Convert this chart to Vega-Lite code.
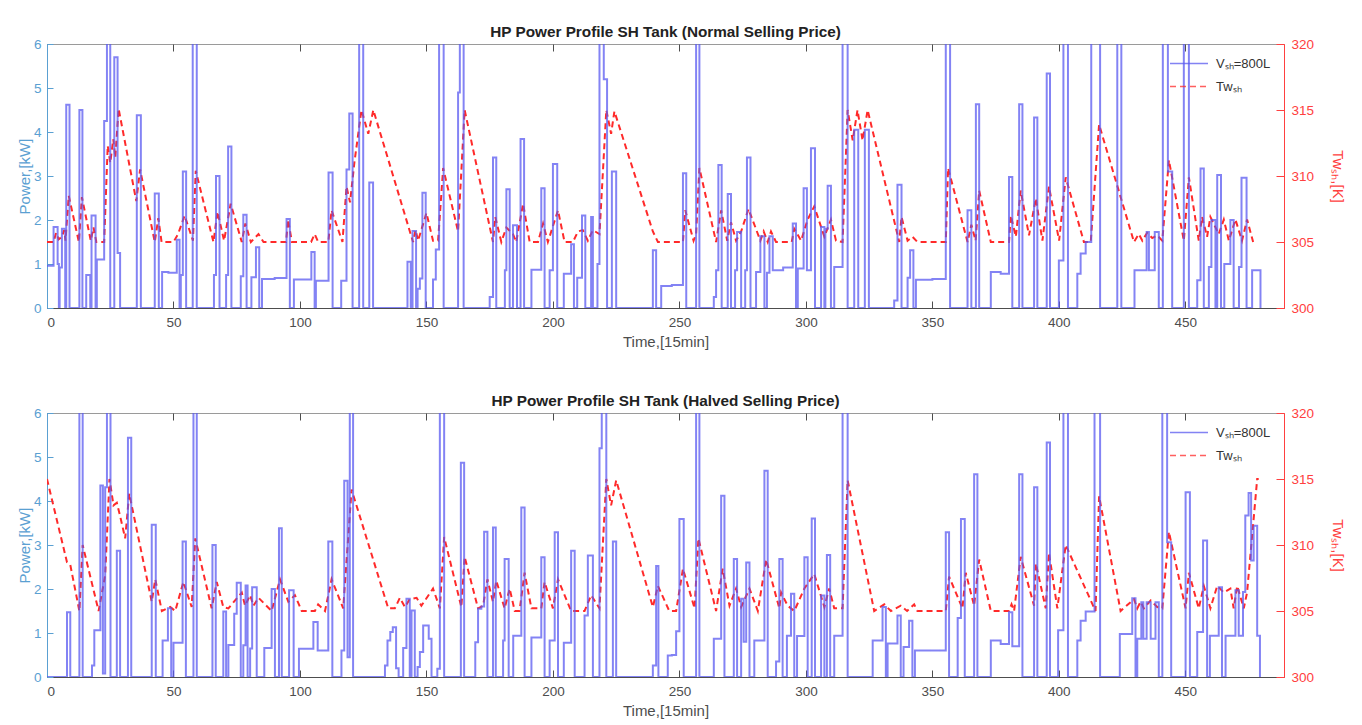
{
"$schema": "https://vega.github.io/schema/vega-lite/v6.json",
"background": "white",
"padding": {"left": 16, "top": 24, "right": 5, "bottom": 5},
"spacing": 43,
"config": {
  "font": "Liberation Sans",
  "view": {"stroke": "#9a9a9a", "strokeWidth": 1},
  "title": {"fontSize": 15.3, "fontWeight": "bold", "color": "#222222", "offset": -3}
},
"datasets": {
"p1": [{"t":0,"p":0.96},{"t":2.6,"p":1.84},{"t":4.2,"p":1.0},{"t":4.7,"p":0},{"t":5,"p":0.92},{"t":5.9,"p":1.8},{"t":7.2,"p":0},{"t":7.6,"p":4.62},{"t":8.9,"p":0},{"t":12.8,"p":4.5},{"t":14,"p":0},{"t":15.5,"p":0.75},{"t":17.1,"p":0},{"t":17.6,"p":2.1},{"t":19.2,"p":0},{"t":19.7,"p":1.1},{"t":22.6,"p":4.25},{"t":23.7,"p":6.5},{"t":25,"p":0},{"t":26.6,"p":5.7},{"t":27.9,"p":1.25},{"t":28.9,"p":0},{"t":35.5,"p":4.38},{"t":37.1,"p":0},{"t":42.6,"p":2.6},{"t":44.2,"p":0},{"t":45.5,"p":0.82},{"t":48,"p":0.8},{"t":51.3,"p":1.55},{"t":52.4,"p":0},{"t":52.9,"p":0.75},{"t":53.7,"p":3.1},{"t":55,"p":0},{"t":57.6,"p":6.5},{"t":59.2,"p":0},{"t":66,"p":0.75},{"t":66.8,"p":3.0},{"t":68.2,"p":0},{"t":70.8,"p":0.75},{"t":71.6,"p":3.67},{"t":72.9,"p":0},{"t":76.6,"p":0.72},{"t":77.6,"p":2.12},{"t":78.9,"p":0},{"t":80.8,"p":0.7},{"t":82.6,"p":1.38},{"t":83.9,"p":0},{"t":85,"p":0.66},{"t":90,"p":0.68},{"t":94.7,"p":2.02},{"t":96,"p":0},{"t":97.6,"p":0.65},{"t":104.5,"p":1.27},{"t":105.8,"p":0},{"t":106.3,"p":0.62},{"t":111.3,"p":3.08},{"t":112.9,"p":0},{"t":116.3,"p":0.62},{"t":118.4,"p":3.15},{"t":119.5,"p":4.42},{"t":120.8,"p":0},{"t":123.4,"p":6.5},{"t":125,"p":0},{"t":127.4,"p":2.85},{"t":128.9,"p":0},{"t":142.5,"p":1.05},{"t":143.8,"p":0},{"t":144.5,"p":1.75},{"t":145.9,"p":0},{"t":146.5,"p":0.44},{"t":147.4,"p":0.67},{"t":148.4,"p":2.62},{"t":149.7,"p":0},{"t":152.6,"p":0.65},{"t":153.7,"p":1.33},{"t":155,"p":6.5},{"t":156.8,"p":0},{"t":162.5,"p":4.9},{"t":163.2,"p":6.5},{"t":164.7,"p":0},{"t":175,"p":0.25},{"t":176.3,"p":3.42},{"t":177.6,"p":0},{"t":181,"p":0.86},{"t":181.6,"p":2.7},{"t":182.9,"p":0},{"t":184.2,"p":1.88},{"t":185.8,"p":0},{"t":187.2,"p":3.84},{"t":188.6,"p":0},{"t":191.5,"p":0.87},{"t":195.4,"p":2.72},{"t":196.7,"p":0},{"t":198.7,"p":0.86},{"t":200,"p":3.27},{"t":201.7,"p":0},{"t":204.3,"p":0.78},{"t":207.2,"p":1.45},{"t":208.3,"p":0},{"t":209.6,"p":0.69},{"t":211.5,"p":2.1},{"t":212.8,"p":0},{"t":215.1,"p":2.07},{"t":215.8,"p":0},{"t":217.6,"p":1.0},{"t":218.4,"p":6.5},{"t":220.1,"p":5.2},{"t":221.4,"p":0},{"t":223.3,"p":3.1},{"t":225,"p":0},{"t":239.5,"p":1.31},{"t":240.8,"p":0},{"t":242.8,"p":0.5},{"t":247,"p":0.52},{"t":251.4,"p":3.06},{"t":252.7,"p":0},{"t":256.6,"p":6.5},{"t":257.9,"p":0},{"t":263.6,"p":0.25},{"t":264.5,"p":0.86},{"t":265.4,"p":3.25},{"t":266.7,"p":0},{"t":269.1,"p":2.59},{"t":270.4,"p":0},{"t":272,"p":0.86},{"t":272.8,"p":1.73},{"t":274.4,"p":0},{"t":276,"p":0.86},{"t":276.7,"p":3.42},{"t":278.1,"p":0},{"t":280.3,"p":0.82},{"t":282,"p":1.63},{"t":283.6,"p":0},{"t":284.6,"p":0.8},{"t":285.6,"p":1.63},{"t":286.9,"p":0.86},{"t":291,"p":0.92},{"t":294.8,"p":1.92},{"t":296.1,"p":0},{"t":296.8,"p":0.9},{"t":299.1,"p":2.72},{"t":300.4,"p":0.86},{"t":302,"p":3.63},{"t":303.6,"p":0},{"t":306,"p":1.84},{"t":307.3,"p":0},{"t":307.7,"p":1.8},{"t":308.6,"p":2.78},{"t":309.9,"p":0},{"t":311.2,"p":0.93},{"t":314.5,"p":6.5},{"t":316.5,"p":0},{"t":319.1,"p":4.05},{"t":320.7,"p":0},{"t":323.3,"p":4.05},{"t":324.9,"p":0},{"t":334.9,"p":0.17},{"t":336.2,"p":2.8},{"t":337.8,"p":0},{"t":340.2,"p":0.69},{"t":341.2,"p":1.31},{"t":342.5,"p":0},{"t":343.5,"p":0.64},{"t":350,"p":0.66},{"t":355.3,"p":6.5},{"t":357,"p":0},{"t":363.9,"p":2.22},{"t":365.4,"p":0},{"t":367.2,"p":4.63},{"t":368.5,"p":0},{"t":373.1,"p":0.82},{"t":377,"p":0.78},{"t":380.3,"p":2.98},{"t":381.6,"p":0},{"t":384.3,"p":4.63},{"t":385.6,"p":0},{"t":390.2,"p":4.33},{"t":391.5,"p":0},{"t":395.2,"p":5.33},{"t":396.5,"p":0},{"t":400,"p":1.08},{"t":401.8,"p":6.5},{"t":403.6,"p":0},{"t":407.3,"p":0.78},{"t":408.6,"p":1.24},{"t":410.6,"p":1.5},{"t":412.8,"p":6.5},{"t":416.3,"p":0},{"t":423.1,"p":6.5},{"t":424.7,"p":0},{"t":429.9,"p":0.86},{"t":434.7,"p":1.73},{"t":435.6,"p":0.86},{"t":437.9,"p":1.73},{"t":439.5,"p":0},{"t":441.1,"p":6.5},{"t":443.1,"p":3.1},{"t":444.8,"p":0},{"t":449.4,"p":6.5},{"t":451.4,"p":0},{"t":454.7,"p":0.63},{"t":456,"p":3.17},{"t":457.3,"p":0},{"t":459.3,"p":0.93},{"t":460.3,"p":2.0},{"t":461.9,"p":0},{"t":462.6,"p":3.02},{"t":464.1,"p":0},{"t":465.4,"p":1.0},{"t":467.8,"p":2.0},{"t":469.1,"p":0},{"t":471.2,"p":0.93},{"t":472.2,"p":2.96},{"t":474.2,"p":0},{"t":476.4,"p":0.86},{"t":479.7,"p":0}],
"t1": [{"t":0,"T":305},{"t":2.6,"T":305},{"t":3.6,"T":305.7},{"t":4.6,"T":305.2},{"t":5.9,"T":305.4},{"t":6.8,"T":305.9},{"t":7.3,"T":305.1},{"t":8.6,"T":308.5},{"t":12.6,"T":305},{"t":13.8,"T":308.4},{"t":17.3,"T":305.1},{"t":18.4,"T":306.1},{"t":19.5,"T":305},{"t":22.6,"T":305},{"t":24,"T":312.3},{"t":25,"T":311},{"t":26.2,"T":312.8},{"t":27,"T":311.4},{"t":28.3,"T":315.1},{"t":35.3,"T":308.1},{"t":36.8,"T":310.5},{"t":42.6,"T":305},{"t":44,"T":306.8},{"t":45.3,"T":305},{"t":50,"T":305},{"t":51.8,"T":305.6},{"t":54.4,"T":307},{"t":57.7,"T":305.1},{"t":58.8,"T":310.4},{"t":65.8,"T":305},{"t":67.4,"T":307.3},{"t":70,"T":305.1},{"t":72.6,"T":307.9},{"t":77,"T":305},{"t":78.4,"T":306.4},{"t":80.6,"T":305},{"t":83.6,"T":305.6},{"t":85.6,"T":305},{"t":94.5,"T":305},{"t":95.3,"T":306.7},{"t":96.8,"T":305},{"t":104.4,"T":305},{"t":105.8,"T":305.6},{"t":107.2,"T":305},{"t":111.2,"T":305},{"t":112.5,"T":307.4},{"t":116.8,"T":305},{"t":118.4,"T":309.2},{"t":119.8,"T":308},{"t":121.5,"T":311},{"t":124.3,"T":315},{"t":127,"T":313.2},{"t":129,"T":315},{"t":144.7,"T":305},{"t":145.7,"T":305.9},{"t":146.7,"T":305.1},{"t":150,"T":307.2},{"t":152.6,"T":305.1},{"t":154.6,"T":305.1},{"t":156.6,"T":310.6},{"t":162.5,"T":305.8},{"t":165.1,"T":315},{"t":176.3,"T":305},{"t":177.2,"T":306.9},{"t":179.6,"T":305},{"t":181.6,"T":306.1},{"t":184.2,"T":305.6},{"t":185.5,"T":305},{"t":188.2,"T":307.9},{"t":190.8,"T":305},{"t":194.1,"T":305},{"t":196.1,"T":306.4},{"t":198,"T":305},{"t":202,"T":307.4},{"t":204.6,"T":305},{"t":207.9,"T":305},{"t":209.9,"T":305.8},{"t":211.8,"T":305.9},{"t":213.8,"T":305.1},{"t":215.8,"T":305.9},{"t":218.4,"T":305.6},{"t":221.1,"T":315},{"t":223,"T":313.2},{"t":224.3,"T":314.9},{"t":239.5,"T":305.8},{"t":241.5,"T":305},{"t":251.4,"T":305},{"t":252.3,"T":307.4},{"t":255.6,"T":305.1},{"t":256.6,"T":305.6},{"t":257.9,"T":310.6},{"t":264.5,"T":305},{"t":266.5,"T":307.4},{"t":268.9,"T":305.1},{"t":270.4,"T":306.5},{"t":272.4,"T":305.1},{"t":274.4,"T":305.8},{"t":277.3,"T":307.5},{"t":282,"T":305.1},{"t":283.3,"T":305.8},{"t":284.9,"T":305},{"t":286.2,"T":305.8},{"t":288.2,"T":305},{"t":294.4,"T":305},{"t":295.4,"T":306},{"t":298.1,"T":305.1},{"t":300.7,"T":306.7},{"t":303.3,"T":307.7},{"t":307.3,"T":305.4},{"t":309.9,"T":306.7},{"t":311.9,"T":305.1},{"t":314.5,"T":305},{"t":316.5,"T":315},{"t":318.5,"T":312.7},{"t":320.4,"T":315},{"t":322.4,"T":312.7},{"t":324.4,"T":315},{"t":336.9,"T":305},{"t":337.8,"T":306.9},{"t":340.2,"T":305.1},{"t":342.1,"T":305.4},{"t":344.1,"T":305},{"t":355.3,"T":305},{"t":356.2,"T":310.6},{"t":363.9,"T":305},{"t":365.4,"T":306.3},{"t":367.1,"T":305.1},{"t":368.5,"T":308.9},{"t":373.1,"T":305},{"t":380.3,"T":305},{"t":381,"T":307},{"t":383,"T":305.4},{"t":384.9,"T":308.9},{"t":388.2,"T":305.5},{"t":390.9,"T":308.3},{"t":393.5,"T":305.1},{"t":396.1,"T":309.2},{"t":400.1,"T":305.1},{"t":402.7,"T":309.9},{"t":409.9,"T":305},{"t":412.6,"T":305},{"t":415.9,"T":313.9},{"t":429.7,"T":305},{"t":431.6,"T":305.6},{"t":433,"T":305.1},{"t":434.9,"T":305.7},{"t":436.9,"T":305.3},{"t":438.9,"T":305.5},{"t":440.9,"T":305.1},{"t":443.5,"T":311.2},{"t":449.4,"T":305.1},{"t":451.4,"T":309.9},{"t":455.3,"T":305.1},{"t":456.6,"T":306.9},{"t":458.6,"T":305.4},{"t":459.9,"T":306.9},{"t":463.2,"T":305.6},{"t":465.2,"T":306.7},{"t":467.2,"T":305.1},{"t":469.8,"T":306.7},{"t":472.4,"T":305.1},{"t":474.4,"T":306.7},{"t":476.8,"T":305}],
"p2": [{"t":0,"p":0},{"t":7.9,"p":1.47},{"t":9.2,"p":0},{"t":12.8,"p":6.5},{"t":14.1,"p":0},{"t":17.8,"p":0.26},{"t":18.7,"p":1.06},{"t":21.1,"p":4.35},{"t":22.1,"p":0.08},{"t":23,"p":4.31},{"t":23.7,"p":6.5},{"t":25.1,"p":0},{"t":27.6,"p":2.87},{"t":28.9,"p":0},{"t":32,"p":5.44},{"t":33.3,"p":0},{"t":41.4,"p":3.46},{"t":43,"p":0},{"t":45.7,"p":0.83},{"t":47.8,"p":1.56},{"t":49.1,"p":0},{"t":50,"p":0.78},{"t":53.6,"p":3.08},{"t":54.9,"p":0},{"t":57.9,"p":6.5},{"t":59.2,"p":0},{"t":65.4,"p":3.0},{"t":66.7,"p":0},{"t":69.7,"p":1.49},{"t":70.8,"p":0},{"t":71.7,"p":0.73},{"t":74,"p":1.44},{"t":75,"p":2.14},{"t":76.6,"p":0},{"t":77.6,"p":0.72},{"t":78.5,"p":2.08},{"t":79.3,"p":0},{"t":80.3,"p":0.65},{"t":81.1,"p":2.04},{"t":82.9,"p":0},{"t":85.9,"p":0.66},{"t":88.8,"p":2.0},{"t":90.1,"p":0},{"t":91.7,"p":3.38},{"t":92.8,"p":0},{"t":95.7,"p":1.97},{"t":97.5,"p":0},{"t":99.6,"p":0.64},{"t":105.3,"p":1.25},{"t":107,"p":0.6},{"t":111.2,"p":3.08},{"t":112.8,"p":0},{"t":116.4,"p":0.6},{"t":117.5,"p":4.46},{"t":118.8,"p":0.45},{"t":119.7,"p":6.5},{"t":121,"p":0},{"t":133.6,"p":0.26},{"t":134.6,"p":0.83},{"t":135.7,"p":1.02},{"t":136.7,"p":1.13},{"t":138,"p":0.2},{"t":139,"p":0},{"t":140.8,"p":0.66},{"t":142.1,"p":1.78},{"t":143.4,"p":0},{"t":144.1,"p":1.51},{"t":145.4,"p":0},{"t":146.5,"p":0.23},{"t":147.4,"p":0.57},{"t":148.7,"p":1.17},{"t":150.9,"p":0.87},{"t":152,"p":0},{"t":154.3,"p":0.19},{"t":155.3,"p":6.5},{"t":157,"p":0},{"t":163.6,"p":4.87},{"t":164.9,"p":0},{"t":169.3,"p":0.79},{"t":170.4,"p":1.55},{"t":171.7,"p":1.6},{"t":172.8,"p":3.3},{"t":174.1,"p":0},{"t":176.3,"p":3.4},{"t":177.4,"p":0},{"t":180.3,"p":0.83},{"t":180.9,"p":2.68},{"t":182.5,"p":0},{"t":184.3,"p":0.94},{"t":187.5,"p":3.85},{"t":188.8,"p":0},{"t":191.5,"p":0.9},{"t":195.4,"p":2.72},{"t":196.7,"p":0},{"t":198.7,"p":0.83},{"t":200.7,"p":3.29},{"t":202,"p":0},{"t":204.3,"p":0.78},{"t":207.2,"p":2.87},{"t":208.6,"p":0},{"t":212.5,"p":1.4},{"t":213.8,"p":2.76},{"t":215.8,"p":0},{"t":218.4,"p":5.2},{"t":219.3,"p":6.5},{"t":221.1,"p":0},{"t":223.7,"p":3.08},{"t":225,"p":0},{"t":239.5,"p":0.26},{"t":240.8,"p":2.52},{"t":241.7,"p":0},{"t":245.4,"p":0.49},{"t":247,"p":0.5},{"t":248.7,"p":1.04},{"t":250,"p":3.59},{"t":251.7,"p":0},{"t":256.6,"p":6.5},{"t":257.9,"p":0},{"t":263.6,"p":0.87},{"t":266.5,"p":4.12},{"t":267.8,"p":0},{"t":271.5,"p":2.68},{"t":272.8,"p":0},{"t":274.4,"p":1.78},{"t":275.4,"p":0.8},{"t":276.4,"p":2.6},{"t":277.7,"p":0},{"t":279.6,"p":0.83},{"t":283.6,"p":4.69},{"t":284.9,"p":0},{"t":288.2,"p":0.35},{"t":289.5,"p":2.68},{"t":290.8,"p":0},{"t":292.5,"p":0.94},{"t":294.1,"p":1.89},{"t":295.4,"p":0},{"t":296.5,"p":0.93},{"t":299.4,"p":2.72},{"t":300.7,"p":0},{"t":302.3,"p":3.6},{"t":303.6,"p":0},{"t":306,"p":1.85},{"t":307.3,"p":0},{"t":308.3,"p":2.77},{"t":309.6,"p":0},{"t":311.2,"p":0.94},{"t":314.5,"p":6.5},{"t":316.5,"p":0},{"t":326.4,"p":0.83},{"t":330.3,"p":1.59},{"t":331.6,"p":0},{"t":332.3,"p":0.76},{"t":336.2,"p":1.4},{"t":337.5,"p":0},{"t":338.6,"p":0.68},{"t":340.8,"p":1.28},{"t":342.1,"p":0},{"t":343.1,"p":0.6},{"t":355.3,"p":3.29},{"t":356.6,"p":0},{"t":360,"p":1.34},{"t":361.3,"p":3.59},{"t":362.8,"p":0},{"t":366.5,"p":4.61},{"t":367.8,"p":0},{"t":373.1,"p":0.83},{"t":377,"p":0.75},{"t":380.3,"p":1.47},{"t":381.6,"p":0.7},{"t":384.3,"p":4.61},{"t":385.6,"p":0},{"t":390.2,"p":4.31},{"t":391.5,"p":0},{"t":395.2,"p":5.33},{"t":396.5,"p":0},{"t":399.7,"p":1.06},{"t":401.8,"p":6.5},{"t":403.6,"p":0},{"t":407.3,"p":0.83},{"t":408.6,"p":1.28},{"t":410.6,"p":1.49},{"t":414.1,"p":6.5},{"t":416.3,"p":0},{"t":424.1,"p":0.98},{"t":429,"p":1.79},{"t":430.3,"p":0},{"t":431,"p":0.87},{"t":432.6,"p":1.7},{"t":433.4,"p":0.87},{"t":434.7,"p":1.7},{"t":436.3,"p":0.87},{"t":438.2,"p":1.7},{"t":439.5,"p":0},{"t":440.9,"p":6.5},{"t":442.8,"p":3.06},{"t":444.4,"p":0},{"t":450.1,"p":4.2},{"t":451.8,"p":0},{"t":454.7,"p":1.02},{"t":457,"p":3.1},{"t":458.6,"p":0},{"t":459.7,"p":0.94},{"t":463.2,"p":2.04},{"t":464.5,"p":0},{"t":465.9,"p":0.94},{"t":469.8,"p":1.97},{"t":471.1,"p":0.94},{"t":472.8,"p":1.93},{"t":473.7,"p":3.67},{"t":475,"p":4.18},{"t":476,"p":2.65},{"t":477,"p":3.44},{"t":478.4,"p":0.94},{"t":479.5,"p":0}],
"t2": [{"t":0,"T":315},{"t":7.9,"T":308.7},{"t":9.2,"T":308.5},{"t":12.8,"T":305},{"t":14.1,"T":310},{"t":20.4,"T":305},{"t":23,"T":307.7},{"t":24.7,"T":315},{"t":26.3,"T":313},{"t":27.6,"T":313.2},{"t":28.9,"T":312.2},{"t":30.9,"T":310.5},{"t":32.5,"T":313.9},{"t":41.4,"T":305.7},{"t":42.8,"T":307.4},{"t":45.4,"T":305},{"t":48.7,"T":305.3},{"t":50.7,"T":305},{"t":53.9,"T":307.2},{"t":57.2,"T":305.3},{"t":58.6,"T":310.5},{"t":65.1,"T":305.2},{"t":67.1,"T":307.2},{"t":69.7,"T":305.3},{"t":71.7,"T":305.2},{"t":77,"T":306.4},{"t":78.3,"T":305.4},{"t":80.3,"T":306.2},{"t":81.6,"T":305.4},{"t":83.6,"T":306},{"t":88.8,"T":305},{"t":92.1,"T":307.4},{"t":95.4,"T":305.7},{"t":98,"T":306.2},{"t":100.7,"T":305},{"t":105.9,"T":305},{"t":107.2,"T":305.5},{"t":109.9,"T":305},{"t":112.5,"T":307.4},{"t":117.1,"T":305.2},{"t":120.4,"T":314.2},{"t":134.9,"T":305.2},{"t":137.5,"T":305.2},{"t":139.5,"T":306},{"t":141.5,"T":305.3},{"t":143.4,"T":305.9},{"t":146.1,"T":306},{"t":148,"T":305.4},{"t":152.6,"T":306.7},{"t":155.3,"T":305.2},{"t":157,"T":310.6},{"t":163.8,"T":305.3},{"t":165.1,"T":309.1},{"t":170.4,"T":305.2},{"t":172.4,"T":305.4},{"t":174.1,"T":307.4},{"t":176.3,"T":305.7},{"t":177.6,"T":307.3},{"t":180.9,"T":305.2},{"t":182.9,"T":306.7},{"t":184.9,"T":305},{"t":186.8,"T":305},{"t":188.8,"T":307.9},{"t":191.5,"T":305.2},{"t":195.4,"T":305.2},{"t":196.7,"T":307.2},{"t":200,"T":305.2},{"t":202,"T":307.4},{"t":207.2,"T":305},{"t":212.5,"T":305},{"t":215.1,"T":306.2},{"t":218.4,"T":305.2},{"t":221.1,"T":315},{"t":223,"T":313},{"t":225,"T":314.9},{"t":239.5,"T":305.3},{"t":241.5,"T":306.9},{"t":246,"T":305},{"t":248.7,"T":305},{"t":251.4,"T":308.2},{"t":256,"T":305.2},{"t":257.5,"T":310.5},{"t":264.5,"T":305},{"t":267.1,"T":308.2},{"t":269.8,"T":305.4},{"t":272.4,"T":306.7},{"t":274.4,"T":305.3},{"t":277.7,"T":306.7},{"t":281,"T":305},{"t":284.3,"T":308.9},{"t":289.5,"T":305.2},{"t":290.2,"T":306.4},{"t":292.8,"T":305.4},{"t":295.4,"T":305},{"t":299.4,"T":306.7},{"t":303.3,"T":307.8},{"t":307.3,"T":305.3},{"t":309.2,"T":306.7},{"t":311.2,"T":305.2},{"t":314.5,"T":305.2},{"t":316.5,"T":314.9},{"t":327,"T":305},{"t":331,"T":305.5},{"t":333.6,"T":305},{"t":337.5,"T":305.4},{"t":340,"T":305},{"t":342.8,"T":305.5},{"t":344.1,"T":305},{"t":355.3,"T":305},{"t":356.6,"T":307.6},{"t":361.9,"T":305.2},{"t":363.2,"T":307.9},{"t":366.5,"T":305.4},{"t":368.5,"T":308.9},{"t":373.1,"T":305},{"t":380.3,"T":305},{"t":381.3,"T":305.5},{"t":382.3,"T":305},{"t":384.9,"T":309.1},{"t":390.2,"T":305.4},{"t":390.9,"T":308.6},{"t":394.8,"T":305.2},{"t":396.1,"T":309.4},{"t":399.4,"T":305.2},{"t":402.7,"T":310},{"t":414.5,"T":305},{"t":415.9,"T":313.7},{"t":424.4,"T":305},{"t":429.7,"T":305.9},{"t":431,"T":305.2},{"t":432.3,"T":305.7},{"t":433.6,"T":305.2},{"t":436.3,"T":305.8},{"t":438.9,"T":305.3},{"t":440.9,"T":305.2},{"t":443.5,"T":311},{"t":450.1,"T":305.2},{"t":451.4,"T":307.9},{"t":455.3,"T":305.2},{"t":457.3,"T":306.9},{"t":459.9,"T":305.2},{"t":462.6,"T":306.9},{"t":465.2,"T":306.4},{"t":467.8,"T":306.7},{"t":469.1,"T":305.2},{"t":470.5,"T":306.9},{"t":473.1,"T":305.2},{"t":474.4,"T":306.4},{"t":478.4,"T":315},{"t":479,"T":315}]
},
"resolve": {"scale": {"color": "independent", "strokeDash": "independent"}},
"vconcat": [
{
 "title": "HP Power Profile SH Tank (Normal Selling Price)",
 "width": 1237, "height": 264,
 "layer": [
  {"data": {"name": "t1"},
   "mark": {"type": "line", "strokeWidth": 2, "clip": true},
   "encoding": {
     "x": {"field": "t", "type": "quantitative", "scale": {"domain": [0, 489], "nice": false, "zero": false},
       "axis": {"orient": "top", "title": null, "labels": false, "domain": false, "grid": false,
         "values": [0,50,100,150,200,250,300,350,400,450], "tickSize": -7, "tickColor": "#4d4d4d"}},
     "y": {"field": "T", "type": "quantitative", "scale": {"domain": [300, 320], "nice": false, "zero": false},
       "axis": {"orient": "right", "title": "Twₛₕ,[K]", "titleColor": "#ff4040", "titleFontSize": 15, "titleFontWeight": "normal", "titlePadding": 16,
         "values": [300,305,310,315,320], "labelColor": "#ff4040", "labelFontSize": 13.5, "labelPadding": 15, "domainColor": "#ff4040", "tickColor": "#ff4040", "tickSize": -8, "grid": false}},
     "color": {"datum": "Twₛₕ", "type": "nominal", "scale": {"domain": ["Vₛₕ=800L", "Twₛₕ"], "range": ["#5a5af0", "#ff2a2a"]},
       "legend": {"orient": "none", "legendX": 1122, "legendY": 8, "title": null, "symbolType": "stroke", "symbolSize": 1444, "symbolStrokeWidth": 1.6, "labelFontSize": 13, "labelColor": "#333333", "rowPadding": 0, "clipHeight": 23, "padding": 0, "labelOffset": 7}},
     "strokeDash": {"datum": "Twₛₕ", "type": "nominal", "scale": {"domain": ["Vₛₕ=800L", "Twₛₕ"], "range": [[1, 0], [6, 4]]},
       "legend": {"orient": "none", "legendX": 1122, "legendY": 8, "title": null, "symbolType": "stroke", "symbolSize": 1444, "symbolStrokeWidth": 1.6, "labelFontSize": 13, "labelColor": "#333333", "rowPadding": 0, "clipHeight": 23, "padding": 0, "labelOffset": 7}}
   }},
  {"data": {"name": "p1"},
   "mark": {"type": "line", "interpolate": "step-after", "strokeWidth": 2, "opacity": 0.75, "clip": true},
   "encoding": {
     "x": {"field": "t", "type": "quantitative", "scale": {"domain": [0, 489], "nice": false, "zero": false},
       "axis": {"orient": "bottom", "title": "Time,[15min]", "titleFontSize": 15, "titleFontWeight": "normal", "titleColor": "#4d4d4d", "titlePadding": 6,
         "values": [0,10,20,30,40,50,60,70,80,90,100,110,120,130,140,150,160,170,180,190,200,210,220,230,240,250,260,270,280,290,300,310,320,330,340,350,360,370,380,390,400,410,420,430,440,450,460,470,480],
         "labelExpr": "datum.value % 50 === 0 ? datum.label : ''", "labelFontSize": 13.5, "labelColor": "#4d4d4d", "labelPadding": 14,
         "domainColor": "#4d4d4d", "tickSize": -7, "tickColor": "#4d4d4d",
         "tickOpacity": {"condition": {"test": "datum.value % 50 === 0", "value": 1}, "value": 0},
         "gridColor": {"condition": {"test": "datum.value % 50 === 0", "value": "#d6d6d6"}, "value": "#eeeeee"}}},
     "y": {"field": "p", "type": "quantitative", "scale": {"domain": [0, 6], "nice": false},
       "axis": {"orient": "left", "title": "Power,[kW]", "titleColor": "#5aa0d2", "titleFontSize": 15, "titleFontWeight": "normal", "titlePadding": 1,
         "values": [0,0.5,1,1.5,2,2.5,3,3.5,4,4.5,5,5.5,6],
         "labelExpr": "datum.value % 1 === 0 ? format(datum.value, 'd') : ''", "labelColor": "#5aa0d2", "labelFontSize": 13.5, "labelPadding": 12,
         "domainColor": "#5aa0d2", "tickColor": "#5aa0d2", "tickSize": -6,
         "tickOpacity": {"condition": {"test": "datum.value % 1 === 0", "value": 1}, "value": 0},
         "gridColor": {"condition": {"test": "datum.value % 1 === 0", "value": "#d6d6d6"}, "value": "#eeeeee"}}},
     "color": {"datum": "Vₛₕ=800L", "type": "nominal"},
     "strokeDash": {"datum": "Vₛₕ=800L", "type": "nominal"}
   }}
 ],
 "resolve": {"scale": {"y": "independent"}}
},
{
 "title": "HP Power Profile SH Tank (Halved Selling Price)",
 "width": 1237, "height": 264,
 "layer": [
  {"data": {"name": "t2"},
   "mark": {"type": "line", "strokeWidth": 2, "clip": true},
   "encoding": {
     "x": {"field": "t", "type": "quantitative", "scale": {"domain": [0, 489], "nice": false, "zero": false},
       "axis": {"orient": "top", "title": null, "labels": false, "domain": false, "grid": false,
         "values": [0,50,100,150,200,250,300,350,400,450], "tickSize": -7, "tickColor": "#4d4d4d"}},
     "y": {"field": "T", "type": "quantitative", "scale": {"domain": [300, 320], "nice": false, "zero": false},
       "axis": {"orient": "right", "title": "Twₛₕ,[K]", "titleColor": "#ff4040", "titleFontSize": 15, "titleFontWeight": "normal", "titlePadding": 16,
         "values": [300,305,310,315,320], "labelColor": "#ff4040", "labelFontSize": 13.5, "labelPadding": 15, "domainColor": "#ff4040", "tickColor": "#ff4040", "tickSize": -8, "grid": false}},
     "color": {"datum": "Twₛₕ", "type": "nominal", "scale": {"domain": ["Vₛₕ=800L", "Twₛₕ"], "range": ["#5a5af0", "#ff2a2a"]},
       "legend": {"orient": "none", "legendX": 1122, "legendY": 8, "title": null, "symbolType": "stroke", "symbolSize": 1444, "symbolStrokeWidth": 1.6, "labelFontSize": 13, "labelColor": "#333333", "rowPadding": 0, "clipHeight": 23, "padding": 0, "labelOffset": 7}},
     "strokeDash": {"datum": "Twₛₕ", "type": "nominal", "scale": {"domain": ["Vₛₕ=800L", "Twₛₕ"], "range": [[1, 0], [6, 4]]},
       "legend": {"orient": "none", "legendX": 1122, "legendY": 8, "title": null, "symbolType": "stroke", "symbolSize": 1444, "symbolStrokeWidth": 1.6, "labelFontSize": 13, "labelColor": "#333333", "rowPadding": 0, "clipHeight": 23, "padding": 0, "labelOffset": 7}}
   }},
  {"data": {"name": "p2"},
   "mark": {"type": "line", "interpolate": "step-after", "strokeWidth": 2, "opacity": 0.75, "clip": true},
   "encoding": {
     "x": {"field": "t", "type": "quantitative", "scale": {"domain": [0, 489], "nice": false, "zero": false},
       "axis": {"orient": "bottom", "title": "Time,[15min]", "titleFontSize": 15, "titleFontWeight": "normal", "titleColor": "#4d4d4d", "titlePadding": 6,
         "values": [0,10,20,30,40,50,60,70,80,90,100,110,120,130,140,150,160,170,180,190,200,210,220,230,240,250,260,270,280,290,300,310,320,330,340,350,360,370,380,390,400,410,420,430,440,450,460,470,480],
         "labelExpr": "datum.value % 50 === 0 ? datum.label : ''", "labelFontSize": 13.5, "labelColor": "#4d4d4d", "labelPadding": 14,
         "domainColor": "#4d4d4d", "tickSize": -7, "tickColor": "#4d4d4d",
         "tickOpacity": {"condition": {"test": "datum.value % 50 === 0", "value": 1}, "value": 0},
         "gridColor": {"condition": {"test": "datum.value % 50 === 0", "value": "#d6d6d6"}, "value": "#eeeeee"}}},
     "y": {"field": "p", "type": "quantitative", "scale": {"domain": [0, 6], "nice": false},
       "axis": {"orient": "left", "title": "Power,[kW]", "titleColor": "#5aa0d2", "titleFontSize": 15, "titleFontWeight": "normal", "titlePadding": 1,
         "values": [0,0.5,1,1.5,2,2.5,3,3.5,4,4.5,5,5.5,6],
         "labelExpr": "datum.value % 1 === 0 ? format(datum.value, 'd') : ''", "labelColor": "#5aa0d2", "labelFontSize": 13.5, "labelPadding": 12,
         "domainColor": "#5aa0d2", "tickColor": "#5aa0d2", "tickSize": -6,
         "tickOpacity": {"condition": {"test": "datum.value % 1 === 0", "value": 1}, "value": 0},
         "gridColor": {"condition": {"test": "datum.value % 1 === 0", "value": "#d6d6d6"}, "value": "#eeeeee"}}},
     "color": {"datum": "Vₛₕ=800L", "type": "nominal"},
     "strokeDash": {"datum": "Vₛₕ=800L", "type": "nominal"}
   }}
 ],
 "resolve": {"scale": {"y": "independent"}}
}
]
}
